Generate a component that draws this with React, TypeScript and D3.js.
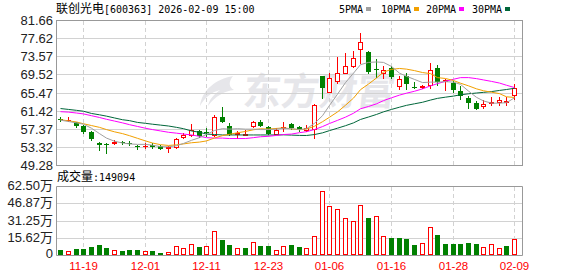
import React from "react";
import * as d3 from "d3";

// ---- data ----
const dateLabels = ["11-19", "12-01", "12-11", "12-23", "01-06", "01-16", "01-28", "02-09"];
const dateIndex = [3, 11, 19, 27, 35, 43, 51, 59];

const opens = [59.7, 59.4, 58.9, 58.2, 56.8, 54.4, 54.0, 54.3, 54.5, 54.2, 53.6, 53.6, 53.9, 53.7, 53.1, 53.3, 55.6, 56.1, 57.0, 56.8,
  56.1, 60.0, 58.1, 56.3, 56.2, 58.0, 58.9, 57.9, 56.4, 57.7, 58.5, 57.9, 57.2, 57.4, 69.2, 65.7, 68.1, 70.0, 71.5, 75.2,
  74.6, 70.8, 69.9, 71.1, 67.1, 69.3, 66.8, 66.8, 67.3, 71.0, 68.2, 67.6, 66.0, 64.3, 63.2, 62.6, 63.3, 63.4, 63.4, 65.1];
const highs = [60.2, 60.2, 59.0, 58.4, 56.9, 54.6, 54.4, 55.0, 54.7, 54.8, 53.8, 54.2, 54.3, 53.8, 53.6, 55.5, 56.6, 58.6, 57.2, 57.6,
  60.5, 62.3, 58.8, 57.0, 57.3, 59.3, 59.4, 58.1, 57.6, 58.9, 58.8, 58.1, 58.4, 63.0, 69.3, 70.0, 73.5, 74.4, 74.8, 78.9,
  74.8, 73.0, 71.5, 71.4, 69.3, 70.0, 67.9, 67.3, 72.1, 71.8, 68.5, 68.1, 67.0, 64.9, 63.7, 63.8, 64.6, 64.6, 64.6, 67.5];
const lows = [59.3, 59.2, 57.9, 56.6, 55.0, 52.8, 52.1, 54.0, 54.0, 53.9, 53.0, 53.2, 53.1, 52.9, 52.4, 53.2, 55.4, 55.9, 55.6, 55.8,
  55.9, 59.0, 56.0, 55.4, 56.0, 57.9, 58.1, 56.3, 56.3, 57.0, 57.5, 57.0, 56.9, 55.5, 64.3, 65.6, 67.8, 69.9, 71.3, 72.1,
  69.9, 69.0, 68.8, 68.8, 66.4, 66.3, 66.6, 66.6, 66.6, 67.2, 66.1, 65.7, 64.1, 62.2, 61.8, 62.1, 62.7, 62.7, 62.9, 64.2];
const closes = [59.4, 59.5, 58.0, 56.7, 55.2, 53.8, 53.9, 54.5, 54.3, 54.1, 53.5, 53.7, 53.3, 53.0, 53.5, 55.1, 56.0, 57.1, 55.8, 56.7,
  60.0, 59.0, 56.2, 56.6, 56.3, 58.9, 58.2, 56.4, 57.3, 57.9, 57.7, 57.2, 57.6, 62.9, 66.5, 68.9, 70.0, 71.4, 73.2, 76.8,
  70.2, 70.7, 70.7, 69.1, 68.5, 67.4, 66.7, 67.1, 70.7, 67.9, 68.3, 66.2, 64.7, 63.2, 61.8, 63.1, 63.5, 63.9, 63.6, 66.5];

// volume in 万 (10k)
const volumes = [4.6, 4.3, 5.5, 5.5, 7.3, 9.2, 6.4, 5.2, 3.7, 4.6, 4.6, 4.3, 3.7, 2.7, 3.4, 8.8, 7.0, 10.7, 7.3, 8.8,
  22.6, 13.7, 9.2, 7.0, 6.4, 12.5, 8.2, 8.2, 5.2, 8.8, 9.2, 7.3, 7.0, 18.0, 58.3, 44.5, 41.8, 33.6, 31.7, 45.4,
  33.9, 35.4, 18.0, 15.6, 15.6, 14.6, 9.2, 11.6, 26.2, 18.3, 10.1, 10.1, 10.1, 11.0, 10.1, 7.9, 10.7, 7.0, 8.2, 14.91];
// 1 = red (hollow), 0 = green (filled)
const volumeUp = [0, 1, 0, 0, 0, 0, 0, 1, 0, 0, 0, 1, 0, 0, 1, 1, 1, 1, 0, 1,
  1, 0, 0, 1, 0, 1, 0, 0, 1, 1, 0, 0, 1, 1, 1, 1, 1, 1, 1, 1,
  0, 1, 1, 0, 0, 0, 0, 1, 1, 0, 0, 0, 0, 0, 0, 1, 1, 1, 0, 1];

const ma5 = [59.4, 59.1, 58.8, 58.5, 57.6, 56.4, 55.4, 54.7, 54.3, 54.1, 54.0, 54.0, 53.8, 53.5, 53.45, 53.7, 54.2, 54.9, 55.5, 56.2,
  57.1, 57.5, 57.4, 57.5, 57.4, 57.4, 57.3, 57.3, 57.4, 57.6, 57.5, 57.3, 57.5, 58.7, 60.4, 62.7, 65.2, 67.8, 69.9, 71.8,
  72.3, 72.4, 72.3, 71.4, 69.9, 69.2, 68.5, 67.8, 67.9, 67.9, 68.0, 67.9, 67.4, 65.9, 64.5, 63.7, 63.2, 63.2, 63.3, 64.4];
const ma10 = [59.5, 59.25, 59.0, 58.6, 58.2, 57.8, 57.3, 56.8, 56.4, 55.94, 55.35, 54.77, 54.3, 53.93, 53.76, 53.89, 54.1, 54.36, 54.51, 54.77,
  55.42, 55.95, 56.24, 56.6, 56.88, 57.26, 57.48, 57.41, 57.56, 57.68, 57.45, 57.27, 57.41, 58.04, 59.06, 60.06, 61.24, 62.74, 64.33, 66.22,
  67.47, 68.82, 70.13, 70.75, 70.95, 70.8, 70.47, 70.04, 69.79, 68.9, 68.71, 68.26, 67.66, 67.07, 66.4, 65.97, 65.65, 65.33, 64.62, 64.48];
const ma20 = [61.3, 61.2, 61.0, 60.8, 60.4, 60.0, 59.6, 59.2, 58.8, 58.4, 58.0, 57.6, 57.3, 57.0, 56.7, 56.5, 56.3, 56.1, 55.8, 55.5,
  55.4, 55.4, 55.3, 55.3, 55.3, 55.5, 55.7, 55.8, 56.0, 56.2, 56.3, 56.61, 56.83, 57.32, 57.97, 58.66, 59.36, 60.08, 60.95, 61.95,
  62.46, 63.05, 63.77, 64.4, 65.0, 65.43, 65.86, 66.39, 67.06, 67.56, 68.09, 68.54, 68.9, 68.91, 68.68, 68.39, 68.06, 67.69, 67.2, 66.69];
const ma30 = [62.0, 61.8, 61.6, 61.4, 60.9, 60.6, 60.3, 59.9, 59.5, 59.3, 58.9, 58.7, 58.5, 58.3, 58.1, 57.8, 57.5, 57.0, 56.7, 56.3,
  56.2, 56.1, 56.1, 56.1, 56.1, 56.1, 56.1, 56.1, 56.1, 56.13, 56.07, 56.0, 55.98, 56.19, 56.57, 57.07, 57.61, 58.17, 58.8, 59.56,
  60.11, 60.68, 61.26, 61.8, 62.3, 62.71, 63.06, 63.4, 63.89, 64.27, 64.54, 64.78, 65.07, 65.29, 65.47, 65.61, 65.79, 66.04, 66.25, 66.53];

const priceTicks = [81.66, 77.62, 73.57, 69.52, 65.47, 61.42, 57.37, 53.32, 49.28];
const volumeTicks = [62.5, 46.875, 31.25, 15.625, 0];
const volumeTickLabels = ["62.50万", "46.87万", "31.25万", "15.62万", "0"];

const legendNames = ["5PMA", "10PMA", "20PMA", "30PMA"];
const title = "联创光电";
const titleRest = "[600363] 2026-02-09 15:00";
const volumeTitle = "成交量";
const volumeLatest = ":149094";

const RED = "#ff0000";
const GREEN = "#008000";
const MA_COLORS = ["#a0a0a0", "#f2a000", "#ff00ff", "#00663a"];
const BORDER = "#999999";
const GRID = "#d2d2d2";
const CJK = "'Noto Sans CJK SC', sans-serif";
const MONO = "'DejaVu Sans Mono', monospace";
const SANS = "'Liberation Sans', Arial, sans-serif";

export default function App() {
  const W = 578;
  const H = 276;
  const n = closes.length;
  const L = 56.5;
  const R = 522.5;
  const x = d3.scaleBand<number>().domain(d3.range(n)).range([56.3, 518]);
  const cx = (i: number) => Math.round((x(i) as number) + x.bandwidth() / 2);
  const y = d3.scaleLinear().domain([49.28, 81.66]).range([165.5, 20.5]);
  const yv = d3.scaleLinear().domain([0, 62.5]).range([255.5, 186.5]);
  const px = (v: number) => Math.floor(v) + 0.5;

  const maLine = (arr: number[]) =>
    d3.line<number>().x((_, i) => cx(i) + 0.5).y((d) => y(d))(arr) as string;

  const candles = closes.map((c, i) => {
    const o = opens[i];
    const up = c >= o;
    const color = up ? RED : GREEN;
    const top = Math.round(y(Math.max(o, c)));
    const bot = Math.round(y(Math.min(o, c)));
    const hy = Math.round(y(highs[i]));
    const ly = Math.round(y(lows[i]));
    const X = cx(i);
    const h = bot - top;
    if (up) {
      return (
        <g key={i} stroke={color} strokeWidth={1} shapeRendering="crispEdges">
          {h < 1 ? (
            <>
              <line x1={X + 0.5} x2={X + 0.5} y1={hy} y2={ly + 1} />
              <line x1={X - 2} x2={X + 3} y1={top + 0.5} y2={top + 0.5} />
            </>
          ) : (
            <>
              {hy < top && <line x1={X + 0.5} x2={X + 0.5} y1={hy} y2={top} />}
              {ly > bot && <line x1={X + 0.5} x2={X + 0.5} y1={bot + 1} y2={ly + 1} />}
              <rect x={X - 1.5} y={top + 0.5} width={4} height={h} fill="#ffffff" />
            </>
          )}
        </g>
      );
    }
    return (
      <g key={i} shapeRendering="crispEdges">
        <line x1={X + 0.5} x2={X + 0.5} y1={hy} y2={ly + 1} stroke={color} strokeWidth={1} />
        <rect x={X - 2} y={top} width={5} height={Math.max(h, 1)} fill={color} />
      </g>
    );
  });

  const volBars = volumes.map((v, i) => {
    const X = cx(i);
    const top = Math.round(yv(v));
    if (volumeUp[i]) {
      return (
        <rect key={i} x={X - 1.5} y={top + 0.5} width={4} height={Math.max(254 - top, 0)}
          fill="#ffffff" stroke={RED} strokeWidth={1} shapeRendering="crispEdges" />
      );
    }
    return (
      <rect key={i} x={X - 2} y={top} width={5} height={255 - top} fill={GREEN} shapeRendering="crispEdges" />
    );
  });

  const legendX = [339, 381, 426, 472];
  const legendW = [24, 30, 30, 30];

  return (
    <svg width={W} height={H} viewBox={`0 0 ${W} ${H}`}
      style={{ position: "absolute", left: 0, top: 0, display: "block", background: "#fff" }}>
      <rect x={0} y={0} width={W} height={H} fill="#ffffff" />

      {/* title */}
      <text x={56} y={12.5} fill="#000">
        <tspan fontFamily={CJK} fontSize={12}>{title}</tspan>
        <tspan fontFamily={MONO} fontSize={10}>{titleRest}</tspan>
      </text>

      {/* legend */}
      {legendNames.map((name, k) => (
        <g key={name}>
          <text x={legendX[k]} y={12.5} fontFamily={MONO} fontSize={10} fill="#000">{name}</text>
          <rect x={legendX[k] + legendW[k] + 3} y={7} width={5} height={4} fill={MA_COLORS[k]} />
        </g>
      ))}

      {/* watermark */}
      <g fill="#e6e6ea">
        <path d="M233,76 C216,79 202,90 200,106 C205,97 212,92 220,90 C213,95 209,100 208,106 C215,96 225,91 234,90 C227,86 230,80 233,76 Z" />
        <text x={242} y={105} fontFamily={CJK} fontSize={38} fontWeight={700}
          transform="skewX(-6) translate(11,0)">东方财富</text>
      </g>

      {/* main grid */}
      {priceTicks.slice(1, -1).map((t) => (
        <line key={t} x1={L} x2={R} y1={px(y(t))} y2={px(y(t))} stroke={GRID} strokeWidth={1} />
      ))}
      {dateIndex.map((di) => (
        <line key={di} x1={cx(di) + 0.5} x2={cx(di) + 0.5} y1={21} y2={165}
          stroke={GRID} strokeWidth={1} strokeDasharray="4,3" />
      ))}

      {candles}

      {[ma30, ma20, ma10, ma5].map((arr, k) => (
        <path key={k} d={maLine(arr)} fill="none" stroke={MA_COLORS[3 - k]} strokeWidth={1} />
      ))}

      <rect x={L} y={20.5} width={R - L} height={145} fill="none" stroke={BORDER} strokeWidth={1} />

      {priceTicks.map((t) => (
        <text key={t} x={53} y={y(t)} dy="0.35em" textAnchor="end" fontFamily={SANS} fontSize={13} fill="#222">
          {t.toFixed(2)}
        </text>
      ))}

      {/* volume panel */}
      <text x={57} y={181} fill="#000">
        <tspan fontFamily={CJK} fontSize={12}>{volumeTitle}</tspan>
        <tspan fontFamily={MONO} fontSize={10}>{volumeLatest}</tspan>
      </text>
      {volumeTicks.slice(1, -1).map((t) => (
        <line key={t} x1={L} x2={R} y1={px(yv(t))} y2={px(yv(t))} stroke={GRID} strokeWidth={1} />
      ))}
      {dateIndex.map((di) => (
        <line key={di} x1={cx(di) + 0.5} x2={cx(di) + 0.5} y1={187} y2={255}
          stroke={GRID} strokeWidth={1} strokeDasharray="4,3" />
      ))}
      {volBars}
      <path d={`M${L},255.5 V186.5 H${R} V255.5 H${L}`} fill="none" stroke={BORDER} strokeWidth={1} />
      {volumeTicks.map((t, k) => (
        <text key={t} x={53} y={k === volumeTicks.length - 1 ? yv(t) - 2 : yv(t) - 1} dy="0.35em" textAnchor="end"
          fontFamily={SANS} fontSize={13} fill="#222">
          {volumeTickLabels[k].replace("万", "")}
          {volumeTickLabels[k].includes("万") && <tspan fontFamily={CJK} fontSize={13}>万</tspan>}
        </text>
      ))}

      {/* x labels */}
      {dateIndex.map((di, k) => (
        <text key={di} x={cx(di) + 0.5} y={270} textAnchor="middle" fontFamily={SANS} fontSize={11.5} fill={RED}>
          {dateLabels[k]}
        </text>
      ))}
    </svg>
  );
}
